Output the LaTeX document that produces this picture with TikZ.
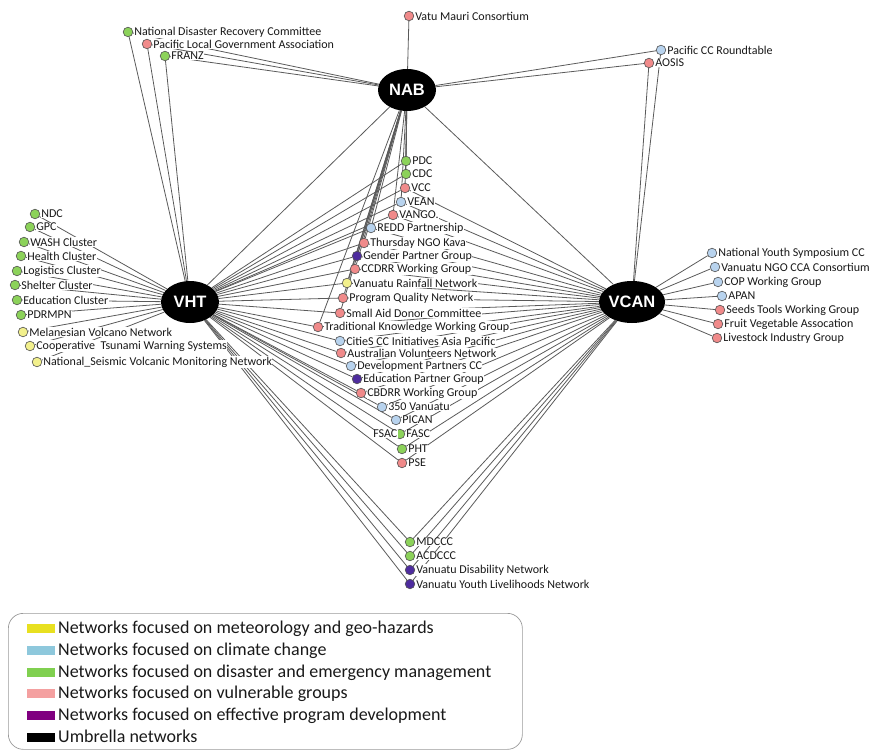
\documentclass[tikz,border=0pt]{standalone}
\usepackage{fontspec}
\setmainfont{Carlito}
\newfontfamily\hubfont{Liberation Sans}
\usetikzlibrary{shapes.geometric,backgrounds}
\definecolor{cgreen}{HTML}{8CD25A}
\definecolor{cpink}{HTML}{F08A8A}
\definecolor{cblue}{HTML}{B8D3EE}
\definecolor{cyellow}{HTML}{F2F08C}
\definecolor{cpurple}{HTML}{4E2C9E}
\definecolor{nodeedge}{HTML}{505050}
\definecolor{edgegray}{HTML}{5A5A5A}
\definecolor{lgyellow}{HTML}{E8E020}
\definecolor{lgblue}{HTML}{8EC8DC}
\definecolor{lggreen}{HTML}{80D050}
\definecolor{lgpink}{HTML}{F4A0A0}
\definecolor{lgpurple}{HTML}{800080}
\definecolor{lgborder}{HTML}{9A9A9A}
\newcommand\leaf[4]{%
  \node[dot,fill=#2] (#1) at (#3) {};
  \node[lbl] (#1L) at ([xshift=0.6pt]#1.east) {#4};}
\begin{document}
\begin{tikzpicture}[x=1pt,y=-1pt,
  dot/.style={circle,draw=nodeedge,line width=0.6pt,minimum size=9.6pt,inner sep=0pt},
  lbl/.style={anchor=west,fill=white,inner sep=0.4pt,text=black!90,font=\fontsize{12}{12}\selectfont},
  hub/.style={ellipse,fill=black,minimum width=58pt,minimum height=42pt,inner sep=0pt,text=white,font=\hubfont\bfseries\fontsize{16.5}{16.5}\selectfont},
  edge/.style={draw=edgegray,line width=0.8pt},
  swatch/.style={rectangle,minimum width=28pt,minimum height=9pt,inner sep=0pt},
  legtext/.style={anchor=base west,inner sep=0pt,text=black!90,font=\fontsize{18}{18}\selectfont}]
\useasboundingbox (0,0) rectangle (880,751);

% hubs
\node[hub] (NAB) at (407,90) {NAB};
\node[hub] (VHT) at (190,302) {VHT};
\node[hub,minimum width=60pt] (VCAN) at (632,302) {VCAN};

% top
\leaf{vatu}{cpink}{409,16}{Vatu Mauri Consortium}
\leaf{ndrc}{cgreen}{128,32}{National Disaster Recovery Committee}
\leaf{plga}{cpink}{147,44}{Pacific Local Government Association}
\leaf{franz}{cgreen}{165,56}{FRANZ}
\leaf{pccr}{cblue}{661,50}{Pacific CC Roundtable}
\leaf{aosis}{cpink}{649,63}{AOSIS}

% middle
\leaf{pdc}{cgreen}{406,161}{PDC}
\leaf{cdc}{cgreen}{406,174}{CDC}
\leaf{vcc}{cpink}{405,188}{VCC}
\leaf{vean}{cblue}{401,202}{VEAN}
\leaf{vango}{cpink}{393,215}{VANGO.}
\leaf{redd}{cblue}{371,228}{REDD Partnership}
\leaf{thur}{cpink}{364,243}{Thursday NGO Kava}
\leaf{gender}{cpurple}{357,256}{Gender Partner Group}
\leaf{ccdrr}{cpink}{355,269}{CCDRR Working Group}
\leaf{rain}{cyellow}{347,283}{Vanuatu Rainfall Network}
\leaf{pqn}{cpink}{343,298}{Program Quality Network}
\leaf{sadc}{cpink}{340,313}{Small Aid Donor Committee}
\leaf{tkwg}{cpink}{318,327}{Traditional Knowledge Working Group}
\leaf{cities}{cblue}{340,341}{CitieS CC Initiatives Asia Pacific}
\leaf{avn}{cpink}{341,353}{Australian Volunteers Network}
\leaf{dpcc}{cblue}{351,366}{Development Partners CC}
\leaf{epg}{cpurple}{357,379}{Education Partner Group}
\leaf{cbdrr}{cpink}{361,393}{CBDRR Working Group}
\leaf{vtf}{cblue}{382,407}{350 Vanuatu}
\leaf{pican}{cblue}{396,420}{PICAN}
\leaf{fasc}{cgreen}{400,434}{FASC}
\node[lbl,anchor=east] (fsacL) at ([xshift=3pt]fasc.west) {FSAC};
\leaf{pht}{cgreen}{402,449}{PHT}
\leaf{pse}{cpink}{402,463}{PSE}

% left
\leaf{ndc}{cgreen}{35,214}{NDC}
\leaf{gpc}{cgreen}{30,227}{GPC}
\leaf{wash}{cgreen}{24,242}{WASH Cluster}
\leaf{health}{cgreen}{21,256}{Health Cluster}
\leaf{logi}{cgreen}{17,271}{Logistics Cluster}
\leaf{shelter}{cgreen}{15,285}{Shelter Cluster}
\leaf{educ}{cgreen}{17,300}{Education Cluster}
\leaf{pdrmpn}{cgreen}{21,315}{PDRMPN}
\leaf{mvn}{cyellow}{23,332}{Melanesian Volcano Network}
\leaf{ctws}{cyellow}{30,346}{Cooperative\ \ Tsunami Warning Systems}
\leaf{nsvm}{cyellow}{37,362}{National\_Seismic Volcanic Monitoring Network}

% right
\leaf{nysc}{cblue}{712,253}{National Youth Symposium CC}
\leaf{ngocca}{cblue}{715,267}{Vanuatu NGO CCA Consortium}
\leaf{cop}{cblue}{718,282}{COP Working Group}
\leaf{apan}{cblue}{722,296}{APAN}
\leaf{seeds}{cpink}{720,310}{Seeds Tools Working Group}
\leaf{fruit}{cpink}{718,324}{Fruit Vegetable Assocation}
\leaf{live}{cpink}{717,338}{Livestock Industry Group}

% bottom
\leaf{mdccc}{cgreen}{410,542}{MDCCC}
\leaf{acdccc}{cgreen}{410,556}{ACDCCC}
\leaf{vdn}{cpurple}{410,570}{Vanuatu Disability Network}
\leaf{vyln}{cpurple}{410,584}{Vanuatu Youth Livelihoods Network}

% connectors
\begin{pgfonlayer}{background}
\foreach \n in {vatu,ndrc,plga,franz,pccr,aosis,VHT,VCAN,pdc,cdc,vcc,vean,vango,redd,thur,gender,ccdrr,rain,pqn,sadc,tkwg}
  \draw[edge] (NAB) -- (\n);
\foreach \n in {ndc,gpc,wash,health,logi,shelter,educ,pdrmpn,mvn,ctws,nsvm,ndrc,plga,franz,pdc,cdc,vcc,vean,vango,redd,thur,gender,ccdrr,rain,pqn,sadc,tkwg,cities,avn,dpcc,epg,cbdrr,vtf,pican,fasc,pht,pse,mdccc,acdccc,vdn,vyln}
  \draw[edge] (VHT) -- (\n);
\foreach \n in {nysc,ngocca,cop,apan,seeds,fruit,live,pccr,aosis,vcc,vean,vango,redd,thur,gender,ccdrr,rain,pqn,sadc,tkwg,cities,avn,dpcc,epg,cbdrr,vtf,pican,fasc,pht,pse,mdccc,acdccc,vdn,vyln}
  \draw[edge] (VCAN) -- (\n);
\end{pgfonlayer}

% legend
\node[draw=lgborder,line width=0.7pt,rounded corners=15pt,minimum width=514pt,minimum height=136pt,anchor=north west,inner sep=0pt] (legend) at (8,613) {};
\node[swatch,fill=lgyellow] (sw1) at (41,628) {};
\node[legtext] (lt1) at (58,633) {Networks focused on meteorology and geo-hazards};
\node[swatch,fill=lgblue] (sw2) at (41,650) {};
\node[legtext] (lt2) at (58,655) {Networks focused on climate change};
\node[swatch,fill=lggreen] (sw3) at (41,672) {};
\node[legtext] (lt3) at (58,677) {Networks focused on disaster and emergency management};
\node[swatch,fill=lgpink] (sw4) at (41,693) {};
\node[legtext] (lt4) at (58,698) {Networks focused on vulnerable groups};
\node[swatch,fill=lgpurple] (sw5) at (41,715) {};
\node[legtext] (lt5) at (58,720) {Networks focused on effective program development};
\node[swatch,fill=black] (sw6) at (41,737) {};
\node[legtext] (lt6) at (58,742) {Umbrella networks};
\end{tikzpicture}
\end{document}
